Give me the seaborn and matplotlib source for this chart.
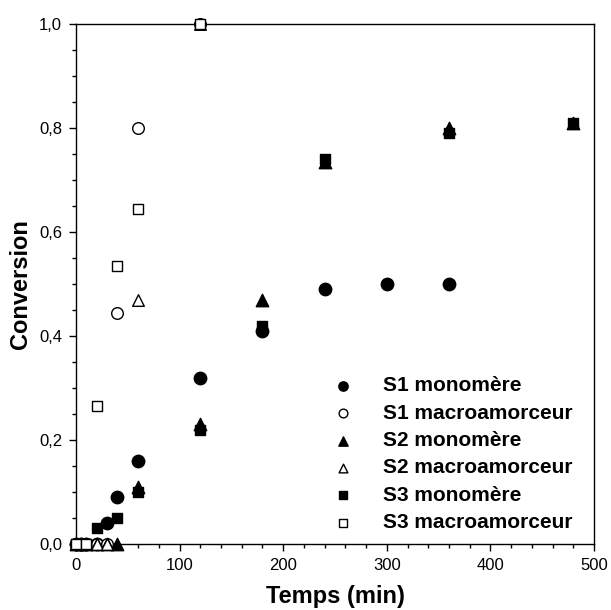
import matplotlib
matplotlib.use("Agg")
import matplotlib.pyplot as plt
import seaborn as sns
import pandas as pd
from matplotlib.ticker import MultipleLocator, FuncFormatter

sns.set_theme(style="white")
plt.rcParams['font.family'] = ['Liberation Sans', 'DejaVu Sans']
plt.rcParams['text.color'] = 'black'
plt.rcParams['axes.labelcolor'] = 'black'
plt.rcParams['xtick.color'] = 'black'
plt.rcParams['ytick.color'] = 'black'

# Data
s1_mono_t = [0, 5, 10, 20, 30, 40, 60, 120, 180, 240, 300, 360]
s1_mono_c = [0, 0, 0, 0, 0.04, 0.09, 0.16, 0.32, 0.41, 0.49, 0.50, 0.50]
s1_macro_t = [0, 10, 20, 30, 40, 60, 120]
s1_macro_c = [0, 0, 0, 0, 0.445, 0.80, 1.0]
s2_mono_t = [0, 5, 10, 20, 30, 40, 60, 120, 180, 240, 360, 480]
s2_mono_c = [0, 0, 0, 0, 0, 0.0, 0.11, 0.23, 0.47, 0.735, 0.80, 0.81]
s2_macro_t = [0, 10, 20, 30, 60, 120]
s2_macro_c = [0, 0, 0, 0, 0.47, 1.0]
s3_mono_t = [0, 5, 10, 20, 40, 60, 120, 180, 240, 360, 480]
s3_mono_c = [0, 0, 0, 0.03, 0.05, 0.10, 0.22, 0.42, 0.74, 0.79, 0.81]
s3_macro_t = [0, 10, 20, 40, 60, 120]
s3_macro_c = [0, 0, 0.265, 0.535, 0.645, 1.0]

series = [
    ("S1 monomère", s1_mono_t, s1_mono_c, "o", "black", 80),
    ("S1 macroamorceur", s1_macro_t, s1_macro_c, "o", "white", 70),
    ("S2 monomère", s2_mono_t, s2_mono_c, "^", "black", 80),
    ("S2 macroamorceur", s2_macro_t, s2_macro_c, "^", "white", 70),
    ("S3 monomère", s3_mono_t, s3_mono_c, "s", "black", 60),
    ("S3 macroamorceur", s3_macro_t, s3_macro_c, "s", "white", 55),
]

fig = plt.figure(figsize=(6.11, 6.10), dpi=100)
ax = fig.add_axes([76/611, 66/610, 518/611, 520/610])

for label, t, c, m, fc, s in series:
    df = pd.DataFrame({"t": t, "c": c})
    sns.scatterplot(data=df, x="t", y="c", marker=m, s=s, color=fc,
                    edgecolor="black", linewidth=1.0, ax=ax, label=label,
                    clip_on=False, zorder=3)

ax.set_xlim(0, 500)
ax.set_ylim(0, 1.0)
ax.xaxis.set_major_locator(MultipleLocator(100))
ax.xaxis.set_minor_locator(MultipleLocator(20))
ax.yaxis.set_major_locator(MultipleLocator(0.2))
ax.yaxis.set_minor_locator(MultipleLocator(0.05))
ax.yaxis.set_major_formatter(FuncFormatter(lambda v, p: f"{v:.1f}".replace(".", ",")))
ax.tick_params(which="major", direction="out", length=5, width=1, labelsize=12,
               bottom=True, left=True, top=False, right=False, pad=5,
               colors="black")
ax.tick_params(which="minor", direction="out", length=3, width=1,
               bottom=True, left=True, top=False, right=False, colors="black")
for sp in ax.spines.values():
    sp.set_visible(True)
    sp.set_color("black")
    sp.set_linewidth(1.0)

ax.set_xlabel("Temps (min)", fontsize=17, fontweight="bold", labelpad=9,
              color="black")
ax.set_ylabel("Conversion", fontsize=17, fontweight="bold", labelpad=5,
              color="black")

leg = ax.legend(loc="upper left", bbox_to_anchor=(0.495, 0.3224), frameon=False,
                prop={"weight": "bold", "size": 15},
                markerscale=0.75, handlelength=1.0, handletextpad=1.42,
                labelspacing=0.4, borderaxespad=0, borderpad=0)
for txt in leg.get_texts():
    txt.set_color("black")

fig.savefig("out.png", dpi=100)
